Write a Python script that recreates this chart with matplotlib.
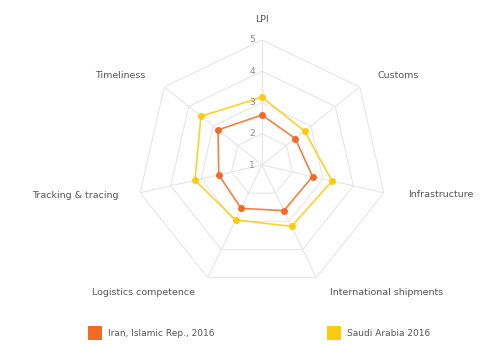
import numpy as np
import matplotlib.pyplot as plt
from matplotlib.patches import Rectangle

categories = ["LPI", "Customs", "Infrastructure", "International shipments",
              "Logistics competence", "Tracking & tracing", "Timeliness"]
iran = [2.60, 2.36, 2.66, 2.62, 2.54, 2.42, 2.80]
saudi = [3.17, 2.74, 3.30, 3.18, 2.95, 3.20, 3.50]
ticks = [1, 2, 3, 4, 5]
series_names = ["Iran, Islamic Rep., 2016", "Saudi Arabia 2016"]
colors = ["#f26a24", "#fccb0a"]

W, H = 481, 345
fig = plt.figure(figsize=(W / 100, H / 100), dpi=100)
cx, cy, R = 262, 165, 125
ax = fig.add_axes([(cx - R) / W, (H - cy - R) / H, 2 * R / W, 2 * R / H], projection='polar')
ax.set_theta_offset(np.pi / 2)
ax.set_theta_direction(-1)
ax.set_ylim(1, 5)
ax.grid(False)
ax.set_xticks([])
ax.set_yticks([])
ax.spines['polar'].set_visible(False)
ax.patch.set_alpha(0)

n = len(categories)
angles = np.arange(n) * 2 * np.pi / n
closed = np.append(angles, angles[0])
gc = '#e6e6e6'
for t in ticks[1:]:
    ax.plot(closed, [t] * (n + 1), color=gc, lw=0.8, zorder=1)
for a in angles:
    ax.plot([a, a], [ticks[0], ticks[-1]], color=gc, lw=0.8, zorder=1)

for vals, col, name in zip([iran, saudi], colors, series_names):
    v = np.append(vals, vals[0])
    ax.plot(closed, v, color=col, lw=1.2, alpha=0.85, zorder=3)
    ax.plot(angles, vals, 'o', color=col, ms=5, zorder=4, mec='none')

for t in ticks:
    ax.annotate(str(t), xy=(0, t), xytext=(-10, 0), textcoords='offset pixels',
                ha='center', va='center', fontsize=6.5, color='#8a8a8a')

offsets = [(0, 20, 'center'), (18, 12, 'left'), (24, -2, 'left'), (14, -15, 'left'),
           (-13, -15, 'right'), (-22, -3, 'right'), (-19, 12, 'right')]
for a, lab, (dx, dy, ha) in zip(angles, categories, offsets):
    ax.annotate(lab, xy=(a, 5), xytext=(dx, dy), textcoords='offset pixels',
                ha=ha, va='center', fontsize=6.8, color='#555555', annotation_clip=False)

# legend
leg_x = [88, 327]
for x0, col, name in zip(leg_x, colors, series_names):
    fig.add_artist(Rectangle((x0 / W, (H - 340) / H), 14 / W, 14 / H,
                             transform=fig.transFigure, color=col, lw=0))
    fig.text((x0 + 20) / W, (H - 333) / H, name, ha='left', va='center',
             fontsize=6.5, color='#555555')

fig.savefig('out.png', dpi=100)
